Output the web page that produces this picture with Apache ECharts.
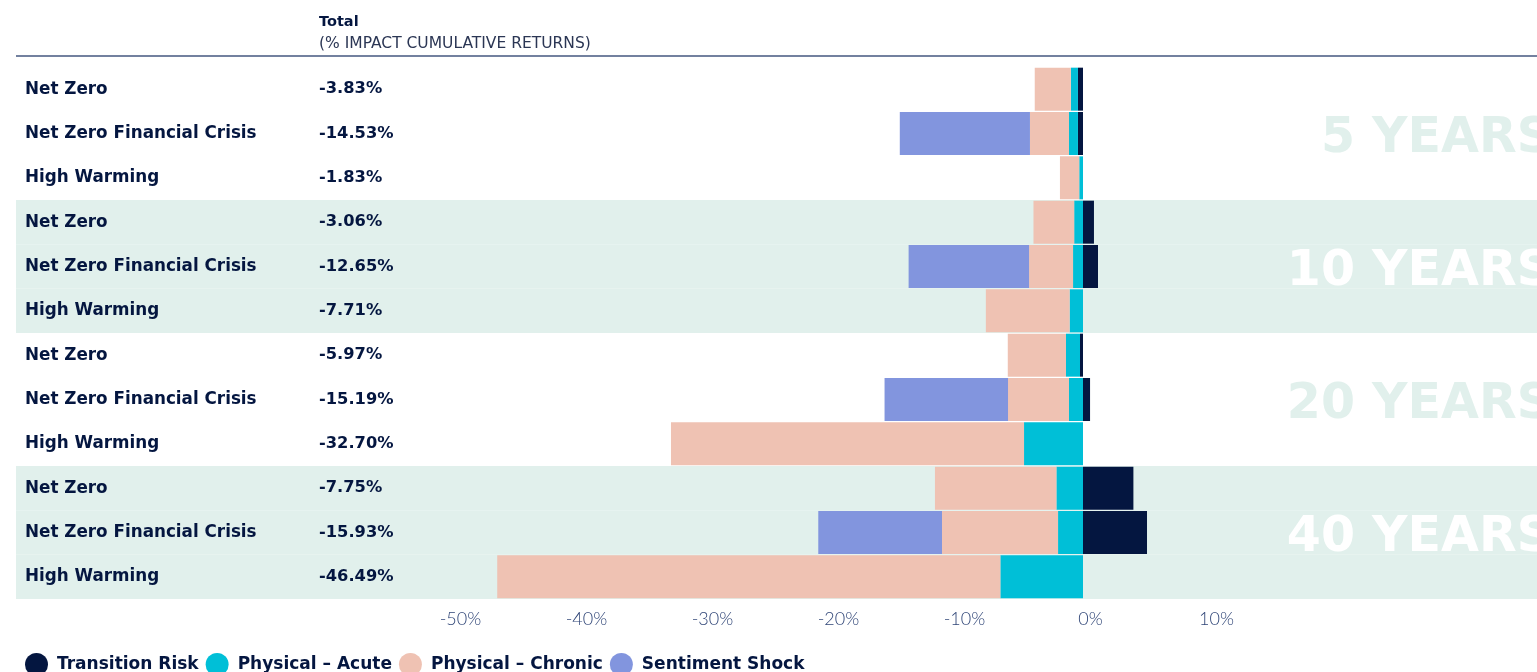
<!DOCTYPE html>
<html>
<head>
<meta charset="utf-8">
<title>Climate scenario impact on cumulative returns</title>
<script src="https://cdn.jsdelivr.net/npm/echarts@6/dist/echarts.min.js"></script>
<style>
  html, body { margin: 0; padding: 0; background: #ffffff; }
  #chart { width: 1537px; height: 672px; }
</style>
</head>
<body>
<div id="chart"></div>
<script>
// Horizons and scenarios, one row per (horizon, scenario)
const periods = ['5 YEARS', '10 YEARS', '20 YEARS', '40 YEARS'];
const scenarios = ['Net Zero', 'Net Zero Financial Crisis', 'High Warming'];

// Total impact on cumulative returns (%)
const totals = [-3.83, -14.53, -1.83, -3.06, -12.65, -7.71, -5.97, -15.19, -32.70, -7.75, -15.93, -46.49];

// Contribution of each risk driver (%)
const transitionRisk = [-0.40, -0.40, 0, 0.87, 1.19, 0, -0.24, 0.56, 0, 4.00, 5.08, 0];
const physicalAcute = [-0.56, -0.71, -0.30, -0.70, -0.79, -1.06, -1.11, -1.11, -4.68, -2.11, -1.98, -6.56];
const physicalChronic = [-2.87, -3.10, -1.53, -3.23, -3.49, -6.65, -4.62, -4.84, -28.02, -9.64, -9.21, -39.93];
const sentimentShock = [0, -10.33, 0, 0, -9.56, 0, 0, -9.80, 0, 0, -9.82, 0];

// Value-axis tick labels that are shown
const tickLabels = [-50, -40, -30, -20, -10, 0, 10];

const seriesNames = ['Transition Risk', 'Physical \u2013 Acute', 'Physical \u2013 Chronic', 'Sentiment Shock'];
const seriesColors = ['#041640', '#00bfd7', '#efc2b3', '#8295de'];
const seriesValues = [transitionRisk, physicalAcute, physicalChronic, sentimentShock];

const NAVY = '#041640';
const BAND = '#e1f0ec';
const FONT = 'DejaVu Sans';

// Unique keys for the category axis
const rowKeys = [];
const rowPeriod = [];
periods.forEach((p, pi) => scenarios.forEach((s, si) => {
  rowKeys.push(pi + '|' + si);
  rowPeriod.push(pi);
}));

const chart = echarts.init(document.getElementById('chart'), null, { renderer: 'canvas' });

const option = {
  animation: false,
  backgroundColor: '#ffffff',
  title: {
    text: 'Total',
    subtext: '(% IMPACT CUMULATIVE RETURNS)',
    left: 314,
    top: 10,
    itemGap: 6,
    textStyle: { fontFamily: FONT, fontSize: 14.5, fontWeight: 700, color: NAVY },
    subtextStyle: { fontFamily: FONT, fontSize: 15.5, fontWeight: 400, color: '#2b3654' }
  },
  legend: {
    left: 25,
    top: 653,
    padding: 0,
    icon: 'circle',
    itemWidth: 23,
    itemHeight: 23,
    itemGap: 7,
    data: seriesNames,
    selectedMode: false,
    textStyle: { fontFamily: FONT, fontSize: 17, fontWeight: 700, color: NAVY, padding: [0, 0, 0, 4] }
  },
  grid: [
    { left: 75, right: 76, top: 67, bottom: 73 },
    { left: 16, right: 0, top: 67, bottom: 73 }
  ],
  xAxis: [
    {
      gridIndex: 0,
      type: 'value',
      min: -80,
      max: 30,
      interval: 10,
      axisLine: { show: false },
      axisTick: { show: false },
      splitLine: { show: false },
      axisLabel: {
        margin: 11,
        padding: [0, 0, 0, 15],
        fontFamily: 'Lato',
        fontWeight: 300,
        fontSize: 18,
        color: '#2f4577',
        formatter: v => (tickLabels.indexOf(v) >= 0 ? v + '%' : '')
      }
    },
    { gridIndex: 1, type: 'value', min: 0, max: 1, show: false }
  ],
  yAxis: [
    {
      gridIndex: 0,
      type: 'category',
      inverse: true,
      data: rowKeys,
      axisLine: { show: false },
      axisTick: { show: false },
      axisLabel: {
        align: 'left',
        margin: 50,
        formatter: (key, idx) => {
          const si = Number(key.split('|')[1]);
          return '{name|' + scenarios[si] + '}{total|' + totals[idx].toFixed(2) + '%}';
        },
        rich: {
          name: { width: 294, fontFamily: FONT, fontSize: 16.8, fontWeight: 700, color: NAVY },
          total: { fontFamily: FONT, fontSize: 16.3, fontWeight: 700, color: NAVY }
        }
      }
    },
    { gridIndex: 1, type: 'category', inverse: true, data: rowKeys, show: false }
  ],
  series: [
    {
      // shaded background for alternate horizons
      type: 'bar',
      xAxisIndex: 1,
      yAxisIndex: 1,
      barWidth: '100%',
      silent: true,
      z: 0,
      itemStyle: { color: BAND },
      data: rowPeriod.map(p => (p % 2 === 1 ? 1 : '-'))
    }
  ].concat(seriesNames.map((name, i) => ({
    name: name,
    type: 'bar',
    xAxisIndex: 0,
    yAxisIndex: 0,
    stack: 'impact',
    barCategoryGap: '3%',
    z: 2,
    itemStyle: { color: seriesColors[i] },
    data: seriesValues[i]
  })))
};

chart.setOption(option);

// Header rule and the horizon captions placed on their middle rows
const headerY = 56;
const graphics = [{
  type: 'line',
  shape: { x1: 16, y1: headerY, x2: 1537, y2: headerY },
  style: { stroke: '#44577f', lineWidth: 1.5 },
  z: 10
}];
periods.forEach((p, pi) => {
  const midRow = pi * scenarios.length + 1;
  const y = chart.convertToPixel({ yAxisIndex: 0 }, midRow);
  graphics.push({
    type: 'text',
    x: 1552,
    y: y + 6,
    z: 1,
    silent: true,
    style: {
      text: p,
      align: 'right',
      verticalAlign: 'middle',
      font: '700 49px "DejaVu Sans"',
      fill: pi % 2 === 1 ? '#ffffff' : BAND
    }
  });
});
chart.setOption({ graphic: graphics });
</script>
</body>
</html>
